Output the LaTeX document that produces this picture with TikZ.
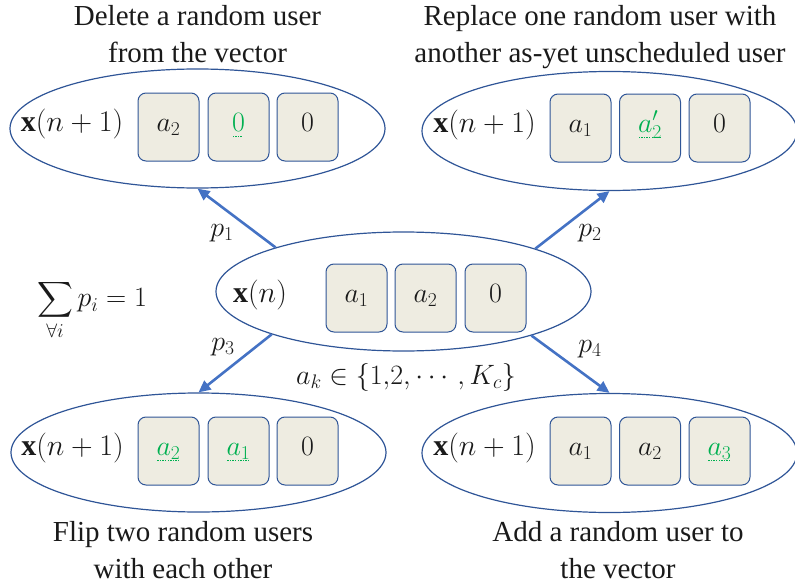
\RequirePackage{fix-cm}
\documentclass[tikz,border=0pt]{standalone}
\usepackage{amsmath}
\usepackage{fontspec}
\setmainfont{Liberation Serif}
\usetikzlibrary{shapes.geometric,arrows.meta}

\definecolor{rim}{HTML}{2F5597}
\definecolor{cell}{HTML}{EEECE1}
\definecolor{flow}{HTML}{4472C4}
\definecolor{ugreen}{HTML}{00B050}
\definecolor{ink}{HTML}{1A1A1A}

% green entry with a dotted underline
\newcommand\dotul[1]{\setbox0=\hbox{#1}\rlap{\copy0}\lower6pt\hbox to\wd0{\color{ugreen}\leaders\hbox to 2.6pt{\hss\vrule width 1.4pt height 1.4pt\hss}\hfill}}
\newcommand\gr[1]{\dotul{\color{ugreen}$#1$}}

\tikzset{
  oval/.style={ellipse, draw=rim, line width=1.2pt, minimum width=375, minimum height=119, inner sep=0},
  cellbox/.style={rectangle, rounded corners=8pt, draw=rim, line width=1pt, fill=cell,
    minimum width=61, minimum height=68, inner sep=0, text height=13pt, text depth=5pt,
    text=ink, font=\fontsize{28}{34}\selectfont},
  tag/.style={inner sep=0, text height=14pt, text depth=5pt, text=ink, font=\fontsize{30}{36}\selectfont},
  lbl/.style={inner sep=0, text=ink, font=\fontsize{28}{34}\selectfont},
  caption/.style={align=center, anchor=north, inner sep=0, text=ink, font=\fontsize{29}{37}\selectfont},
  flowarrow/.style={draw=flow, line width=2.6pt, -{Triangle[length=12pt,width=11pt]}},
}

\begin{document}
\begin{tikzpicture}[x=1pt,y=-1pt]
\useasboundingbox (0,0) rectangle (795,586);

% captions
\node[caption] (captl) at (197.5,5) {Delete a random user\\from the vector};
\node[caption] (captr) at (600,5) {Replace one random user with\\another as-yet unscheduled user};
\node[caption] (capbl) at (183,521) {Flip two random users\\with each other};
\node[caption] (capbr) at (618,521) {Add a random user to\\the vector};

% current state
\node[oval] (c) at (403.5,291.5) {};
\node[tag] (cx) at (260,298) {$\mathbf{x}(n)$};
\node[cellbox] (c1) at (356.5,298) {$a_1$};
\node[cellbox] (c2) at (425.5,298) {$a_2$};
\node[cellbox] (c3) at (495.5,298) {$0$};

% delete
\node[oval] (tl) at (197.5,128.5) {};
\node[tag] (tlx) at (72,127) {$\mathbf{x}(n+1)$};
\node[cellbox] (tl1) at (168.5,127) {$a_2$};
\node[cellbox] (tl2) at (238.5,127) {\gr{0}};
\node[cellbox] (tl3) at (307.5,127) {$0$};

% replace
\node[oval] (tr) at (609.5,131) {};
\node[tag] (trx) at (484.5,128) {$\mathbf{x}(n+1)$};
\node[cellbox] (tr1) at (580.5,128) {$a_1$};
\node[cellbox] (tr2) at (650,128) {\gr{a'_2}};
\node[cellbox] (tr3) at (719.5,128) {$0$};

% flip
\node[oval] (bl) at (198.5,452.5) {};
\node[tag] (blx) at (72.5,451) {$\mathbf{x}(n+1)$};
\node[cellbox] (bl1) at (168.5,451) {\gr{a_2}};
\node[cellbox] (bl2) at (238.5,451) {\gr{a_1}};
\node[cellbox] (bl3) at (307.5,451) {$0$};

% add
\node[oval] (br) at (609.5,453) {};
\node[tag] (brx) at (484.5,451) {$\mathbf{x}(n+1)$};
\node[cellbox] (br1) at (580.5,451) {$a_1$};
\node[cellbox] (br2) at (650,451) {$a_2$};
\node[cellbox] (br3) at (719.5,451) {\gr{a_3}};

% transitions
\draw[flowarrow] (c.161.7) -- (tl.south);
\draw[flowarrow] (c.18.3) -- (tr.south);
\draw[flowarrow] (c.198.3) -- (bl.north);
\draw[flowarrow] (c.341.7) -- (br.north);

\node[lbl] (p1) at (222,233) {$p_1$};
\node[lbl] (p2) at (590,233) {$p_2$};
\node[lbl] (p3) at (223,347) {$p_3$};
\node[lbl] (p4) at (590,349) {$p_4$};

% side notes
\node[lbl] (sum) at (92,310) {$\displaystyle\sum_{\forall i} p_i = 1$};
\node[lbl] (range) at (406,377) {$a_k \in \{1{,}2,\cdots,K_c\}$};
\end{tikzpicture}
\end{document}
